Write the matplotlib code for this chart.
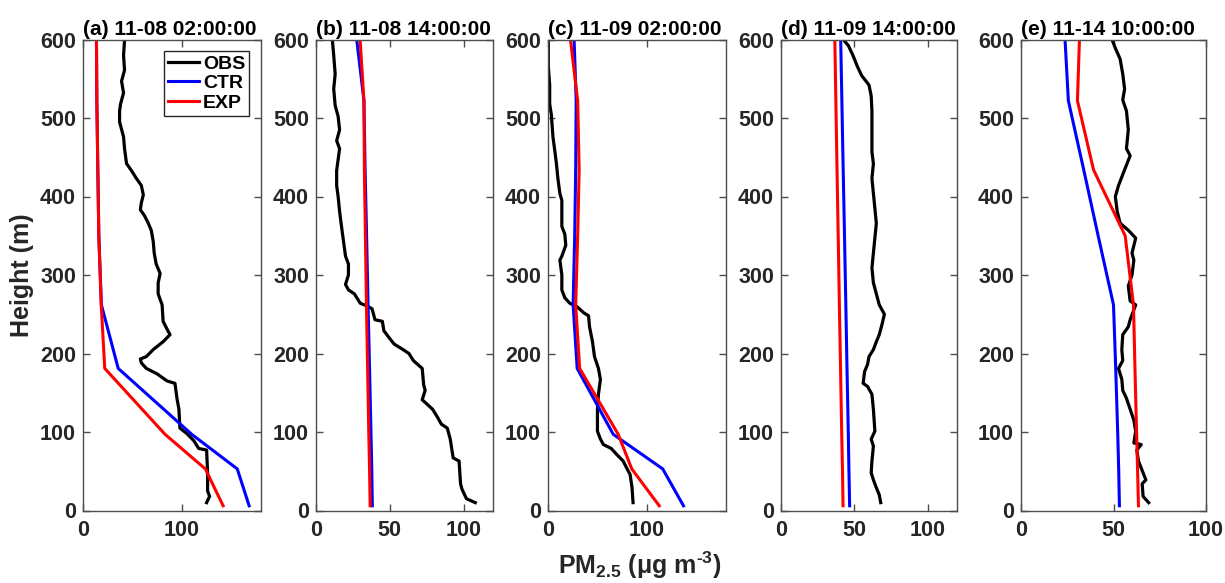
import matplotlib
matplotlib.use("Agg")
import matplotlib.pyplot as plt

plt.rcParams['font.family'] = ['Liberation Sans', 'DejaVu Sans']
plt.rcParams['font.weight'] = 'bold'
plt.rcParams['mathtext.fontset'] = 'custom'
plt.rcParams['mathtext.rm'] = 'Liberation Sans:bold'
plt.rcParams['mathtext.bf'] = 'Liberation Sans:bold'
plt.rcParams['mathtext.it'] = 'Liberation Sans:bold'

# ---------------- data ----------------
titles = ["(a) 11-08 02:00:00", "(b) 11-08 14:00:00", "(c) 11-09 02:00:00",
          "(d) 11-09 14:00:00", "(e) 11-14 10:00:00"]
xmax = [180, 120, 180, 120, 100]
xticks = [[0, 100], [0, 50, 100], [0, 100], [0, 50, 100], [0, 50, 100]]
yticks = [0, 100, 200, 300, 400, 500, 600]

model_h = [6, 53, 97, 181, 262, 350, 434, 522, 600]

ctr_a = [168, 156, 110, 35.6, 18.6, 16, 15, 14, 13.6]
exp_a = [141.7, 123.7, 83, 22, 18.4, 16, 15, 14, 13.6]
ctr_b = [38.2, 37.8, 37.3, 36.3, 35.3, 34.3, 33.3, 32.5, 27.6]
exp_b = [36.7, 36.3, 35.8, 35.0, 34.2, 33.5, 32.8, 32.5, 29.9]
ctr_c = [137, 116, 66, 29.5, 25.4, 27, 28, 28.5, 26.4]
exp_c = [112.5, 84.7, 71, 32, 28, 30, 31.5, 30, 22.7]
ctr_d = [46.8, 46.3, 45.9, 45.0, 44.2, 43.3, 42.4, 41.5, 40.7]
exp_d = [42.3, 41.9, 41.4, 40.6, 39.8, 39.0, 38.2, 37.4, 36.7]
ctr_e = [53.2, 52.8, 52.3, 51.2, 50.0, 41.7, 33.9, 25.6, 23.8]
exp_e = [63.5, 63.0, 62.5, 61.6, 60.8, 56.3, 39.2, 30.5, 31.6]

obs_a_h = [10, 18, 25, 48, 77, 79, 89, 98, 105, 129, 143, 162, 165, 174, 181, 188, 193, 196,
           205, 215, 224, 231, 241, 262, 276, 290, 302, 314, 328, 343, 357, 366, 376, 383,
           392, 402, 414, 423, 433, 442, 461, 476, 495, 509, 518, 532, 547, 561, 580, 599]
obs_a_v = [125, 128, 126, 126, 125, 117, 112, 105, 98, 97, 95, 93, 85, 75, 64, 59, 58, 64,
           71, 81, 88, 85, 81, 80, 76, 76, 78, 74, 72, 71, 69, 66, 62, 58,
           59, 61, 59, 54, 49, 44, 42, 41, 37, 37, 38, 41, 39, 42, 41, 42]

obs_b_h = [10, 15, 27, 34, 63, 67, 91, 105, 110, 120, 129, 136, 141, 153, 160, 181, 186, 191,
           200, 205, 212, 219, 229, 241, 243, 257, 261, 264, 276, 281, 288, 300, 314, 324,
           338, 352, 366, 381, 400, 414, 433, 447, 461, 471, 485, 502, 516, 537, 556, 580, 601]
obs_b_v = [108, 102, 99, 98, 97, 93, 91, 89, 85, 82, 79, 75, 72, 74, 73, 72, 69, 66,
           63, 59, 53, 50, 46, 45, 40, 38, 34, 30, 26, 22, 20, 22, 22, 20,
           19, 18, 17, 16, 15, 14, 14, 15, 16, 14, 16, 15, 13, 12, 13, 12, 11]

obs_c_h = [10, 29, 46, 53, 63, 72, 79, 84, 91, 101, 129, 148, 167, 181, 196, 215, 234, 248,
           252, 260, 264, 271, 281, 300, 319, 324, 338, 352, 362, 376, 395, 404, 423, 442,
           457, 476, 504, 518, 542, 566, 599]
obs_c_v = [86, 85, 83, 80, 76, 69, 64, 56, 53, 50, 50, 51, 53, 51, 47, 45, 42, 41,
           36, 29, 22, 17, 14, 14, 12, 14, 18, 17, 14, 14, 14, 12, 10, 8.5,
           7, 5, 3.4, 1.7, 1.7, 0.3, 0.3]

obs_d_h = [10, 20, 29, 39, 48, 63, 82, 91, 101, 129, 148, 158, 162, 177, 186, 196, 205, 215,
           224, 238, 250, 262, 276, 290, 309, 328, 347, 366, 385, 404, 423, 442, 457, 471,
           490, 509, 528, 542, 554, 566, 580, 592, 601]
obs_d_v = [68, 67, 65, 63, 61.5, 62, 63, 61.5, 64, 63, 62, 59, 56, 57, 59, 60, 63, 65,
           67, 69, 70.5, 67, 65, 63, 62, 63, 64, 65, 64, 63, 62, 63, 62, 62,
           62, 62, 61.5, 60, 55, 52, 49, 46, 42]

obs_e_h = [10, 18, 34, 39, 51, 63, 77, 84, 86, 101, 115, 129, 143, 153, 167, 181, 191, 205,
           224, 234, 243, 262, 267, 286, 300, 319, 328, 347, 357, 366, 381, 400, 414, 428,
           452, 461, 485, 509, 523, 537, 556, 575, 589, 601]
obs_e_v = [69, 66, 65.5, 67.5, 65.5, 63.5, 62.6, 65, 61, 62, 61, 59, 57, 55, 54.5, 52.7, 55, 54.5,
           55, 58, 59, 62, 59, 58, 60, 61, 60, 62, 58, 53.6, 52, 51, 52.7, 55,
           59, 57, 58, 57, 55, 56, 55, 53.6, 51, 49]

obs_h = [obs_a_h, obs_b_h, obs_c_h, obs_d_h, obs_e_h]
obs_v = [obs_a_v, obs_b_v, obs_c_v, obs_d_v, obs_e_v]
ctr = [ctr_a, ctr_b, ctr_c, ctr_d, ctr_e]
exp = [exp_a, exp_b, exp_c, exp_d, exp_e]

# ---------------- layout ----------------
W, H = 1225, 583
fig = plt.figure(figsize=(W / 100, H / 100), dpi=100)
lefts = [83, 316, 548, 781, 1021]
rights = [261, 493, 726, 957, 1206]
top_px, bot_px = 39.5, 510.5

spine_c = '#4d4d4d'
text_c = '#262626'

for i in range(5):
    ax = fig.add_axes([lefts[i] / W, 1 - bot_px / H, (rights[i] - lefts[i]) / W,
                       (bot_px - top_px) / H])
    l1, = ax.plot(obs_v[i], obs_h[i], color='black', lw=2.3, label='OBS')
    l2, = ax.plot(ctr[i], model_h, color='#0000ff', lw=2.2, label='CTR')
    l3, = ax.plot(exp[i], model_h, color='#ff0000', lw=2.2, label='EXP')
    ax.set_xlim(0, xmax[i])
    ax.set_ylim(0, 600)
    ax.set_xticks(xticks[i])
    ax.set_yticks(yticks)
    ax.tick_params(direction='in', length=5, width=1, top=True, right=True,
                   labelsize=15.5, colors=spine_c, labelcolor=text_c)
    ax.tick_params(axis='x', pad=7)
    ax.tick_params(axis='y', pad=5)
    for lab in ax.get_xticklabels() + ax.get_yticklabels():
        lab.set_fontweight('bold')
    for s in ax.spines.values():
        s.set_color(spine_c)
        s.set_linewidth(1.0)
    ax.set_title(titles[i], loc='left', fontsize=15, fontweight='bold', pad=3, color='black')
    if i == 0:
        leg = ax.legend(handles=[l1, l2, l3], loc='upper right',
                        prop={'weight': 'bold', 'size': 14}, fancybox=False,
                        framealpha=1, edgecolor=text_c, borderpad=0.2,
                        labelspacing=0.1, handlelength=1.6, handletextpad=0.2,
                        borderaxespad=0.6)
        leg.get_frame().set_linewidth(1.0)

fig.text(22 / W, 1 - 275 / H, 'Height (m)', rotation=90, ha='center', va='center',
         fontsize=18, fontweight='bold', color=text_c)
fig.text(640 / W, 1 - 574 / H, r'PM$_{\text{2.5}}$ (μg m$^{\text{-3}}$)', ha='center',
         va='baseline', fontsize=18, fontweight='bold', color=text_c)

fig.savefig('out.png', dpi=100)
